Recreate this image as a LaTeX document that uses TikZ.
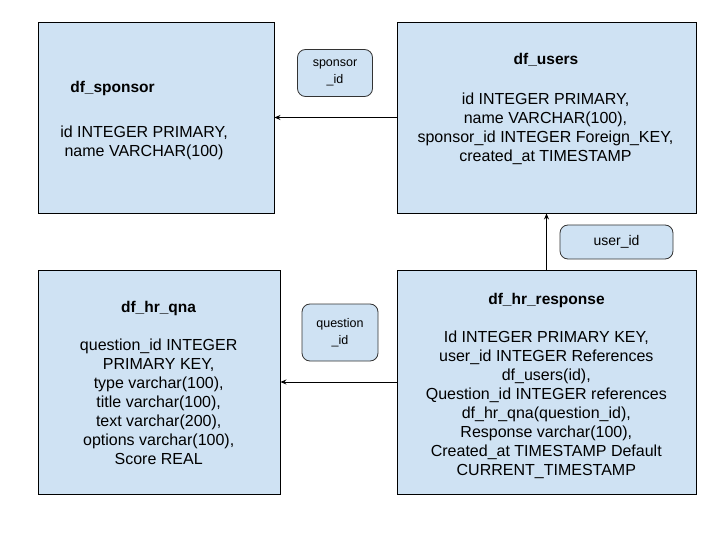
\documentclass[tikz,border=0pt]{standalone}
\usepackage{fontspec}
\setmainfont{Liberation Sans}
\usetikzlibrary{arrows.meta}
\definecolor{boxblue}{HTML}{CFE2F3}
\definecolor{edgegray}{HTML}{333333}
\tikzset{
  tablebox/.style={draw=black, fill=boxblue, line width=0.9pt, inner sep=0pt},
  tabletext/.style={align=center, inner sep=0pt, anchor=north, font=\fontsize{16}{19}\selectfont},
  tabletitle/.style={inner sep=0pt, anchor=base, font=\fontsize{15.5}{19}\selectfont\bfseries},
  keylabel/.style={draw=edgegray, fill=boxblue, rounded corners=8pt, line width=0.8pt, align=center, inner sep=0pt, font=\fontsize{12.5}{16.5}\selectfont},
  link/.style={draw=black, line width=0.9pt, -{Stealth[length=6pt,width=5pt]}}
}
\begin{document}
\begin{tikzpicture}[x=1pt,y=-1pt]
\useasboundingbox (0,0) rectangle (720,540);
% tables
\node[tablebox, minimum width=236pt, minimum height=191pt] (sponsor) at (156,117.5) {};
\node[tablebox, minimum width=299pt, minimum height=191pt] (users) at (546.5,117.5) {};
\node[tablebox, minimum width=242pt, minimum height=224pt] (qna) at (159,382) {};
\node[tablebox, minimum width=299pt, minimum height=224pt] (resp) at (546.5,382) {};
% titles
\node[tabletitle] (sponsortitle) at (112.5,92.5) {df\_sponsor};
\node[tabletitle] (userstitle) at (546,65) {df\_users};
\node[tabletitle] (qnatitle) at (158.5,312.7) {df\_hr\_qna};
\node[tabletitle] (resptitle) at (546.5,304) {df\_hr\_response};
% fields
\node[tabletext] (sponsorfields) at (144,126.2) {id INTEGER PRIMARY,\\ name VARCHAR(100)};
\node[tabletext] (usersfields) at (545.5,92.5) {id INTEGER PRIMARY,\\ name VARCHAR(100),\\ sponsor\_id INTEGER Foreign\_KEY,\\ created\_at TIMESTAMP};
\node[tabletext] (qnafields) at (158.7,339.2) {question\_id INTEGER\\ PRIMARY KEY,\\ type varchar(100),\\ title varchar(100),\\ text varchar(200),\\ options varchar(100),\\ Score REAL};
\node[tabletext] (respfields) at (546.3,330.8) {Id INTEGER PRIMARY KEY,\\ user\_id INTEGER References\\ df\_users(id),\\ Question\_id INTEGER references\\ df\_hr\_qna(question\_id),\\ Response varchar(100),\\ Created\_at TIMESTAMP Default\\ CURRENT\_TIMESTAMP};
% key labels
\node[keylabel, minimum width=75pt, minimum height=47pt] (sponsorkey) at (335,73) {sponsor\\ \_id};
\node[keylabel, minimum width=76pt, minimum height=57pt] (questionkey) at (340,332.5) {question\\ \_id};
\node[keylabel, minimum width=113pt, minimum height=34pt, font=\fontsize{14}{16}\selectfont] (userkey) at (616.5,242) {user\_id};
% connectors
\draw[link] (users.west) -- (sponsor.east);
\draw[link] (resp.west) -- (qna.east);
\draw[link] (resp.north) -- (users.south);
\end{tikzpicture}
\end{document}
